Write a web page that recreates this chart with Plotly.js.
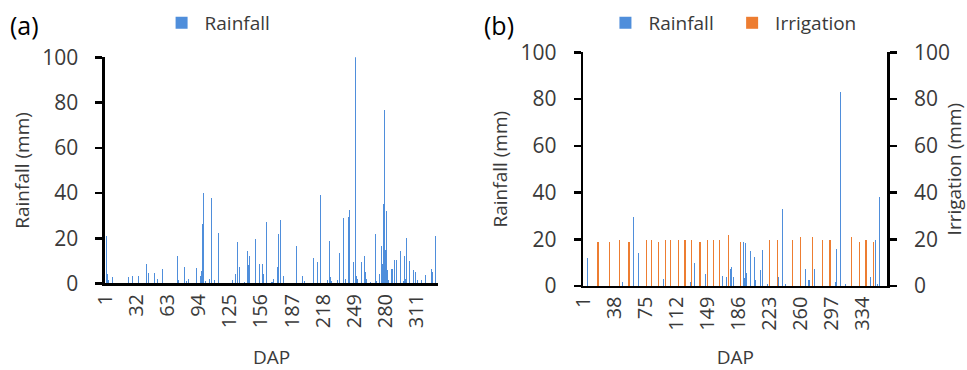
<!DOCTYPE html>
<html>
<head>
<meta charset="utf-8">
<script src="https://cdn.plot.ly/plotly-3.0.1.min.js"></script>
<style>
  html, body { margin: 0; padding: 0; background: #ffffff; }
  #chart { width: 967px; height: 370px; }
</style>
</head>
<body>
<div id="chart"></div>
<script>
// ---------- Panel (a): rainfall by DAP ----------
const daysA = [2,3,4,8,24,28,34,42,44,50,53,58,73,74,80,82,84,92,96,97,98,99,101,105,107,110,114,
  128,131,133,135,140,143,144,145,151,155,158,159,162,167,168,172,173,175,178,191,197,199,
  208,212,215,222,224,225,226,232,234,238,240,243,244,248,250,251,252,256,259,260,261,265,
  270,271,274,276,277,278,279,280,281,282,283,286,287,289,291,295,298,299,300,301,304,308,
  310,312,316,320,326,327,330];
const rainA = [21.2,4,1.5,3,3,3.5,3.5,8.4,4.5,4.5,1.8,6.2,12.3,1.5,7.5,1,2,7,3.2,5.4,26.5,40,1,1.8,37.8,1.5,22.3,
  1.5,4,18.5,7.5,0.8,14.5,8,12,19.7,8.8,8.4,4,27.2,0.8,1.8,7.5,22,28.1,3.5,16.6,3.5,1.2,
  11.3,9.6,39,1.5,18.8,3,1,1.5,13.5,29,2,29.4,32.3,9.3,100,3.5,2,9.3,12,5,2,0.8,
  21.9,1,4,16.5,8.5,35.2,76.5,14.9,31.9,5.8,1.5,6.5,6.5,10.6,10.6,14.5,1,12.3,2,20.3,10,6,
  5.3,1.5,1.5,3.8,6.2,5,21];
const ticksA = [1,32,63,94,125,156,187,218,249,280,311];

// ---------- Panel (b): rainfall and irrigation by DAP ----------
const daysB = [5,47,61,66,96,128,133,146,167,171,172,176,178,180,192,193,194,195,200,205,206,212,215,221,
  233,238,242,266,270,276,302,303,308,314,344,350,352,354];
const rainB = [11.8,1.7,29.7,14,2.9,1.7,9.7,5,4.3,2.6,3.7,7.4,8.3,3.7,18.7,3.3,18.3,5.4,15.1,12.6,2.6,6.8,15.4,0.9,
  4,33,0.9,7.4,2.6,7.4,1.7,16,83.2,0.8,4,19.7,1,38];
const irrDaysB = [18,32,44,55,76,82,90,99,105,114,122,130,140,149,156,163,174,188,223,232,250,260,274,286,295,321,330,338,347];
const irrB = [18.7,18.7,19.7,18.7,19.7,19.7,18.7,19.7,19.7,19.7,19.7,19.7,18.7,19.7,19.7,19.7,21.7,18.7,19.7,19.7,19.7,20.8,20.8,19.7,19.7,20.8,18.7,19.7,18.7];
const ticksB = [1,38,75,112,149,186,223,260,297,334];

const yTicks = [0,20,40,60,80,100];

const BLUE = '#4F8EDB';
const ORANGE = '#ED7D31';
const TXT = '#3a3a3a';
const FONT = 'Open Sans, Noto Sans, sans-serif';

const traces = [
  { type: 'bar', x: daysA, y: rainA, name: 'Rainfall', xaxis: 'x', yaxis: 'y',
    width: 1.0, marker: { color: BLUE, line: { width: 0 } }, legend: 'legend', showlegend: true },
  { type: 'bar', x: daysB, y: rainB, name: 'Rainfall', xaxis: 'x2', yaxis: 'y2',
    width: 1.2, marker: { color: BLUE, line: { width: 0 } }, legend: 'legend2', showlegend: true },
  { type: 'bar', x: irrDaysB, y: irrB, name: 'Irrigation', xaxis: 'x2', yaxis: 'y3',
    width: 1.6, marker: { color: ORANGE, line: { width: 0 } }, legend: 'legend3', showlegend: true }
];

const xCommon = {
  showline: true, linecolor: '#000', linewidth: 2.5, ticks: '', showgrid: false, zeroline: false,
  tickmode: 'array', tickangle: -90, tickfont: { family: FONT, size: 20, color: TXT }
};
const yCommon = {
  range: [0, 100], showline: true, linecolor: '#000', linewidth: 2.5, ticks: 'outside', ticklen: 7,
  tickwidth: 2.5, tickcolor: '#000', showgrid: false, zeroline: false, tickmode: 'array', tickvals: yTicks,
  tickfont: { family: FONT, size: 21, color: TXT }, ticklabelstandoff: 13
};
const titleFont = { family: FONT, size: 19, color: TXT };
const legFont = { family: FONT, size: 19, color: TXT };

const layout = {
  width: 967, height: 370, margin: { l: 0, r: 0, t: 0, b: 0 },
  paper_bgcolor: '#fff', plot_bgcolor: 'rgba(0,0,0,0)',
  barmode: 'overlay', bargap: 0, showlegend: true,
  xaxis: Object.assign({}, xCommon, { domain: [0.10858, 0.45295], range: [0.5, 332.5], tickvals: ticksA, anchor: 'y',
    title: { text: 'DAP', font: titleFont, standoff: 25 } }),
  yaxis: Object.assign({}, yCommon, { domain: [0.2338, 0.8451], anchor: 'x',
    title: { text: 'Rainfall (mm)', font: titleFont, standoff: 8 } }),
  xaxis2: Object.assign({}, xCommon, { domain: [0.60321, 0.91758], range: [0.5, 363.5], tickvals: ticksB, anchor: 'y2',
    title: { text: 'DAP', font: titleFont, standoff: 28 } }),
  yaxis2: Object.assign({}, yCommon, { domain: [0.22703, 0.85865], anchor: 'x2',
    title: { text: 'Rainfall (mm)', font: titleFont, standoff: 8 } }),
  yaxis3: Object.assign({}, yCommon, { domain: [0.22703, 0.85865], anchor: 'x2', overlaying: 'y2', side: 'right',
    title: { text: 'Irrigation (mm)', font: titleFont, standoff: 13 } }),
  legend: { visible: true, orientation: 'h', x: 0.164, xanchor: 'left', y: 0.938, yanchor: 'middle',
    font: legFont, bgcolor: 'rgba(0,0,0,0)', itemwidth: 36 },
  legend2: { visible: true, orientation: 'h', x: 0.623, xanchor: 'left', y: 0.938, yanchor: 'middle',
    font: legFont, bgcolor: 'rgba(0,0,0,0)', itemwidth: 36 },
  legend3: { visible: true, orientation: 'h', x: 0.754, xanchor: 'left', y: 0.938, yanchor: 'middle',
    font: legFont, bgcolor: 'rgba(0,0,0,0)', itemwidth: 36 },
  annotations: [
    { text: '(a)', xref: 'paper', yref: 'paper', x: 0.008, y: 0.933, xanchor: 'left', yanchor: 'middle',
      showarrow: false, font: { family: FONT, size: 25, color: '#000' } },
    { text: '(b)', xref: 'paper', yref: 'paper', x: 0.498, y: 0.933, xanchor: 'left', yanchor: 'middle',
      showarrow: false, font: { family: FONT, size: 25, color: '#000' } }
  ]
};

Plotly.newPlot('chart', traces, layout, { staticPlot: true, displayModeBar: false });
</script>
</body>
</html>
